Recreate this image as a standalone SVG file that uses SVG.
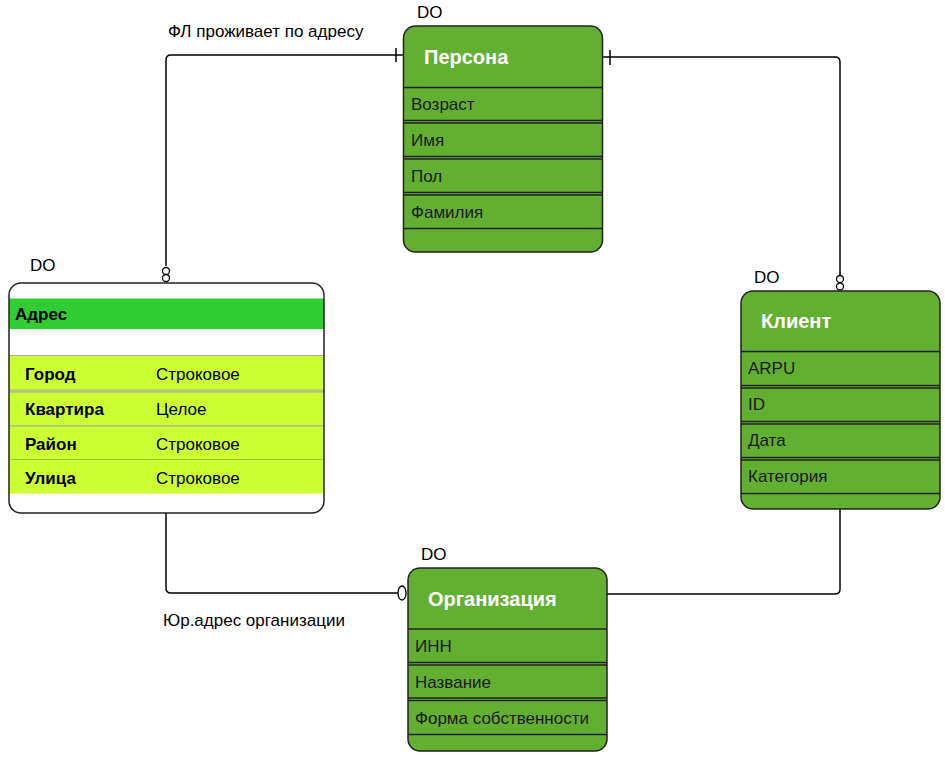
<svg xmlns="http://www.w3.org/2000/svg" width="945" height="757" viewBox="0 0 945 757">
<style>
text{font-family:"Liberation Sans",Arial,sans-serif;fill:#000}
.lbl{font-size:17px}
.title{font-size:20px;font-weight:bold;fill:#fff}
.row{font-size:17px;fill:#1a1a1a}
.box{fill:#63AF32;stroke:#222;stroke-width:1.5}
.sep{stroke:#222;stroke-width:1.5}
.conn{fill:none;stroke:#000;stroke-width:1.5}
.mk{fill:#fff;stroke:#000;stroke-width:1.3}
.fb{font-size:17px;font-weight:bold}
.ft{font-size:17px}
.asep{stroke:#a8a8a8;stroke-width:1.2}
</style>
<g id="connectors">
<path class="conn" d="M166,266 V60 Q166,55 171,55 H403"/>
<line class="conn" x1="396" y1="48" x2="396" y2="62"/>
<circle class="mk" cx="166" cy="271" r="3.5"/>
<circle class="mk" cx="166" cy="278" r="3.5"/>
<path class="conn" d="M603,57 H835 Q840,57 840,62 V275"/>
<line class="conn" x1="610" y1="50" x2="610" y2="65"/>
<circle class="mk" cx="840" cy="279" r="3.5"/>
<circle class="mk" cx="840" cy="286.5" r="3.5"/>
<path class="conn" d="M166,513 V588 Q166,593 171,593 H398"/>
<ellipse class="mk" cx="402" cy="593" rx="4" ry="7"/>
<path class="conn" d="M607,594 H835 Q840,594 840,589 V509"/>
</g>
<g id="persona">
<rect class="box" x="403.5" y="26" width="199" height="226" rx="12"/>
<line class="sep" x1="403.5" y1="87.5" x2="602.5" y2="87.5"/>
<line class="sep" x1="403.5" y1="120.5" x2="602.5" y2="120.5"/>
<line class="sep" x1="403.5" y1="123" x2="602.5" y2="123"/>
<line class="sep" x1="403.5" y1="156.5" x2="602.5" y2="156.5"/>
<line class="sep" x1="403.5" y1="159" x2="602.5" y2="159"/>
<line class="sep" x1="403.5" y1="192.5" x2="602.5" y2="192.5"/>
<line class="sep" x1="403.5" y1="195" x2="602.5" y2="195"/>
<line class="sep" x1="403.5" y1="228.5" x2="602.5" y2="228.5"/>
<text class="title" x="424" y="64">Персона</text>
<text class="row" x="411" y="110">Возраст</text>
<text class="row" x="411" y="146">Имя</text>
<text class="row" x="411" y="182">Пол</text>
<text class="row" x="411" y="218">Фамилия</text>
<text class="lbl" x="417" y="18">DO</text>
</g>
<g id="client">
<rect class="box" x="741" y="291" width="199" height="218" rx="12"/>
<line class="sep" x1="741" y1="351.5" x2="940" y2="351.5"/>
<line class="sep" x1="741" y1="385.5" x2="940" y2="385.5"/>
<line class="sep" x1="741" y1="388" x2="940" y2="388"/>
<line class="sep" x1="741" y1="421.5" x2="940" y2="421.5"/>
<line class="sep" x1="741" y1="424" x2="940" y2="424"/>
<line class="sep" x1="741" y1="457.5" x2="940" y2="457.5"/>
<line class="sep" x1="741" y1="460" x2="940" y2="460"/>
<line class="sep" x1="741" y1="493.5" x2="940" y2="493.5"/>
<text class="title" x="761" y="328">Клиент</text>
<text class="row" x="748" y="374">ARPU</text>
<text class="row" x="748" y="410">ID</text>
<text class="row" x="748" y="446">Дата</text>
<text class="row" x="748" y="482">Категория</text>
<text class="lbl" x="754" y="283">DO</text>
</g>
<g id="organization">
<rect class="box" x="408" y="568" width="199" height="183" rx="12"/>
<line class="sep" x1="408" y1="629" x2="607" y2="629"/>
<line class="sep" x1="408" y1="662.5" x2="607" y2="662.5"/>
<line class="sep" x1="408" y1="665" x2="607" y2="665"/>
<line class="sep" x1="408" y1="698" x2="607" y2="698"/>
<line class="sep" x1="408" y1="700.5" x2="607" y2="700.5"/>
<line class="sep" x1="408" y1="734.5" x2="607" y2="734.5"/>
<text class="title" x="428" y="606">Организация</text>
<text class="row" x="415" y="652">ИНН</text>
<text class="row" x="415" y="688">Название</text>
<text class="row" x="415" y="724">Форма собственности</text>
<text class="lbl" x="421" y="560">DO</text>
</g>
<g id="address">
<rect x="9" y="283" width="315" height="230" rx="12" fill="#fff"/>
<rect x="9" y="298.5" width="315" height="30.5" fill="#32CD32"/>
<rect x="9" y="355" width="315" height="138.5" fill="#CCFF33"/>
<line class="asep" x1="9" y1="355.5" x2="324" y2="355.5"/>
<line class="asep" x1="9" y1="390" x2="324" y2="390"/>
<line class="asep" x1="9" y1="391.8" x2="324" y2="391.8"/>
<line class="asep" x1="9" y1="425.8" x2="324" y2="425.8"/>
<line x1="9" y1="459.5" x2="324" y2="459.5" stroke="#9ccc2a" stroke-width="1.2"/>
<rect x="9" y="283" width="315" height="230" rx="12" fill="none" stroke="#222" stroke-width="1.5"/>
<text class="fb" x="15" y="320">Адрес</text>
<text class="fb" x="25" y="380">Город</text>
<text class="ft" x="156" y="380">Строковое</text>
<text class="fb" x="25" y="415">Квартира</text>
<text class="ft" x="156" y="415">Целое</text>
<text class="fb" x="25" y="450">Район</text>
<text class="ft" x="156" y="450">Строковое</text>
<text class="fb" x="25" y="484">Улица</text>
<text class="ft" x="156" y="484">Строковое</text>
<text class="lbl" x="30" y="271">DO</text>
</g>
<g id="labels">
<text class="lbl" x="168" y="37">ФЛ проживает по адресу</text>
<text class="lbl" x="163" y="626">Юр.адрес организации</text>
</g>
</svg>
